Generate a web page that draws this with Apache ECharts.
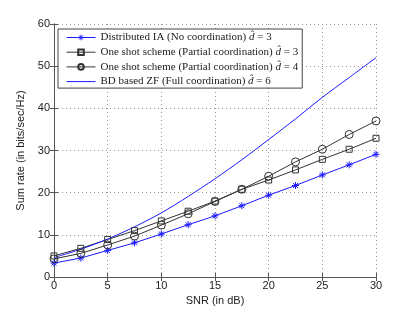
<!DOCTYPE html>
<html><head><meta charset="utf-8">
<script src="https://cdn.jsdelivr.net/npm/echarts@6/dist/echarts.min.js"></script>
<style>html,body{margin:0;padding:0;background:#fff}#c{width:415px;height:313px}</style>
</head><body><div id="c"></div>
<script>
const snr = [0, 2.5, 5, 7.5, 10, 12.5, 15, 17.5, 20, 22.5, 25, 27.5, 30];
const iaNoCoord = [3.3, 4.5, 6.3, 8.1, 10.2, 12.4, 14.5, 16.9, 19.4, 21.7, 24.2, 26.6, 29.1];
const oneShotD3 = [5.0, 6.8, 8.9, 11.0, 13.3, 15.6, 18.0, 20.8, 23.0, 25.4, 27.9, 30.3, 32.9];
const oneShotD4 = [4.3, 5.6, 7.6, 9.7, 12.3, 15.0, 17.9, 20.8, 23.9, 27.3, 30.3, 33.8, 37.0];
const bdZF = [4.6, 6.6, 9.0, 11.9, 15.2, 19.1, 23.3, 27.8, 32.6, 37.5, 42.6, 47.3, 52.0];
const xTicks = [0, 5, 10, 15, 20, 25, 30];
const yTicks = [0, 10, 20, 30, 40, 50, 60];
const names = [
  'Distributed IA (No coordination)|3',
  'One shot scheme (Partial coordination)|3',
  'One shot scheme (Partial coordination)|4',
  'BD based ZF (Full coordination)|6'
];

const BLUE = '#1a1aff', BLACK = '#333333';
const pair = a => a.map((v, i) => [snr[i], v]);
const star = 'path://M5,0L5,10M0,5L10,5M1.5,1.5L8.5,8.5M1.5,8.5L8.5,1.5';

const chart = echarts.init(document.getElementById('c'), null, {renderer: 'canvas'});
const axisLine = {show: true, lineStyle: {color: '#555', width: 1}};
const tickIn = {show: true, inside: true, length: 4, lineStyle: {color: '#555'}};
chart.setOption({
  animation: false,
  backgroundColor: '#fff',
  grid: {left: 54, right: 39, top: 24, bottom: 36, show: false},
  legend: {
    orient: 'vertical', left: 58, top: 29,
    backgroundColor: '#fff', borderColor: '#444', borderWidth: 1,
    padding: [3, 4, 1, 8], itemGap: 3.7, itemWidth: 29, itemHeight: 7,
    data: [
      {name: names[0], lineStyle: {color: BLUE, width: 1}, itemStyle: {color: 'rgba(0,0,0,0)', borderColor: BLUE, borderWidth: 1}},
      {name: names[1], lineStyle: {color: BLACK, width: 1}},
      {name: names[2], lineStyle: {color: BLACK, width: 1}},
      {name: names[3], lineStyle: {color: BLUE, width: 1}, itemStyle: {opacity: 0}}
    ],
    formatter: n => { const p = n.split('|'); return '{a|' + p[0] + ' }{i|d̂}{a| = ' + p[1] + '}'; },
    textStyle: {
      fontFamily: 'Liberation Serif', fontSize: 11, color: '#222', lineHeight: 10,
      rich: {a: {fontFamily: 'Liberation Serif', fontSize: 11, color: '#222', lineHeight: 10},
             i: {fontFamily: 'Liberation Serif', fontStyle: 'italic', fontSize: 11, color: '#222', lineHeight: 10}}
    }
  },
  xAxis: [{
    type: 'value', min: 0, max: 30, interval: 5,
    name: 'SNR (in dB)', nameLocation: 'middle', nameGap: 18,
    nameTextStyle: {fontFamily: 'Liberation Sans', fontSize: 11, color: '#222'},
    axisLine, axisTick: tickIn,
    axisLabel: {fontFamily: 'Liberation Sans', fontSize: 11, color: '#222', margin: 3,
      formatter: v => xTicks.includes(v) ? String(v) : ''},
    splitLine: {show: true, lineStyle: {type: [1, 3], color: '#999'}}
  }, {
    type: 'value', min: 0, max: 30, interval: 5, position: 'top',
    axisLine, axisTick: tickIn, axisLabel: {show: false}, splitLine: {show: false}
  }],
  yAxis: [{
    type: 'value', min: 0, max: 60, interval: 10,
    name: 'Sum rate (in bits/sec/Hz)', nameLocation: 'middle', nameGap: 22,
    nameTextStyle: {fontFamily: 'Liberation Sans', fontSize: 11, color: '#222'},
    axisLine, axisTick: tickIn,
    axisLabel: {fontFamily: 'Liberation Sans', fontSize: 11, color: '#222', margin: 4,
      formatter: v => yTicks.includes(v) ? String(v) : ''},
    splitLine: {show: true, lineStyle: {type: [1, 3], color: '#999'}}
  }, {
    type: 'value', min: 0, max: 60, interval: 10, position: 'right',
    axisLine, axisTick: tickIn, axisLabel: {show: false}, splitLine: {show: false}
  }],
  series: [
    {name: names[0], type: 'line', data: pair(iaNoCoord), symbol: star, symbolSize: 7,
     lineStyle: {color: BLUE, width: 1}, itemStyle: {color: 'rgba(0,0,0,0)', borderColor: BLUE, borderWidth: 1}},
    {name: names[1], type: 'line', data: pair(oneShotD3), symbol: 'rect', symbolSize: 6,
     lineStyle: {color: BLACK, width: 1}, itemStyle: {color: 'rgba(255,255,255,0)', borderColor: BLACK, borderWidth: 1}},
    {name: names[2], type: 'line', data: pair(oneShotD4), symbol: 'circle', symbolSize: 8,
     lineStyle: {color: BLACK, width: 1}, itemStyle: {color: 'rgba(255,255,255,0)', borderColor: BLACK, borderWidth: 1}},
    {name: names[3], type: 'line', data: pair(bdZF), symbol: 'none', smooth: 0.3,
     lineStyle: {color: BLUE, width: 1}, itemStyle: {color: BLUE}}
  ]
});
</script></body></html>
